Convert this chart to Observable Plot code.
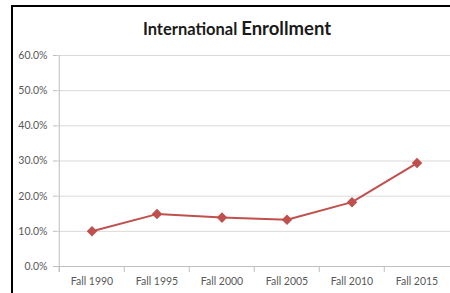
<!DOCTYPE html>
<html>
<head>
<meta charset="utf-8">
<script src="https://cdn.jsdelivr.net/npm/d3@7"></script>
<script src="https://cdn.jsdelivr.net/npm/@observablehq/plot@0.6"></script>
<style>
  html, body { margin: 0; padding: 0; background: #fff; }
  #wrap { position: relative; width: 450px; height: 293px; overflow: hidden; }
  #frame { position: absolute; left: 11px; top: 5px; width: 460px; height: 300px;
           border-top: 2px solid #000; border-left: 2px solid #000; box-sizing: border-box; }
  #title { position: absolute; left: 237px; top: 14px; transform: translateX(-50%);
           white-space: nowrap; font-family: Lato, sans-serif; font-weight: bold; color: #1a1a1a; line-height: 28px; }
  #title .a { font-size: 16.5px; }
  #title .b { font-size: 18.5px; }
</style>
</head>
<body>
<div id="wrap">
  <div id="chart"></div>
  <div id="frame"></div>
  <div id="title"><span class="a">International</span> <span class="b">Enrollment</span></div>
</div>
<script>
const categories = ["Fall 1990", "Fall 1995", "Fall 2000", "Fall 2005", "Fall 2010", "Fall 2015"];
const shares = [0.100, 0.149, 0.139, 0.133, 0.183, 0.294];
const yTicks = [0, 0.1, 0.2, 0.3, 0.4, 0.5, 0.6];

const data = categories.map((c, i) => ({cat: c, val: shares[i]}));
const W = 450, H = 293, ML = 57, MR = 0;
const bw = (W - ML - MR) / categories.length;

const chart = Plot.plot({
  width: W, height: H,
  marginLeft: ML, marginRight: MR, marginTop: 55, marginBottom: 27,
  style: {fontFamily: "Lato, sans-serif", fontSize: "10.5px", color: "#595959", background: "transparent", overflow: "visible"},
  x: {type: "band", domain: categories, padding: 0},
  y: {domain: [0, 0.6]},
  marks: [
    Plot.ruleY(yTicks.slice(1), {stroke: "#d9d9d9", strokeWidth: 1}),
    Plot.ruleY([0], {stroke: "#bfbfbf", strokeWidth: 1}),
    Plot.ruleX(categories, {x: d => d, y1: 0, y2: -0.017, dx: -bw / 2, stroke: "#bfbfbf"}),
    Plot.ruleX([categories[0]], {x: d => d, y1: -0.017, y2: 0.6, dx: -bw / 2, stroke: "#bfbfbf"}),
    Plot.axisY(yTicks, {tickFormat: ".1%", tickSize: 4, tickPadding: 6, stroke: "#bfbfbf", label: null}),
    Plot.axisX({tickSize: 0, tickPadding: 11, label: null}),
    Plot.line(data, {x: "cat", y: "val", stroke: "#c0504d", strokeWidth: 2}),
    Plot.dot(data, {x: "cat", y: "val", symbol: "square", rotate: 45, r: 4.2, fill: "#c0504d", stroke: "none"})
  ]
});
document.getElementById("chart").appendChild(chart);
</script>
</body>
</html>
